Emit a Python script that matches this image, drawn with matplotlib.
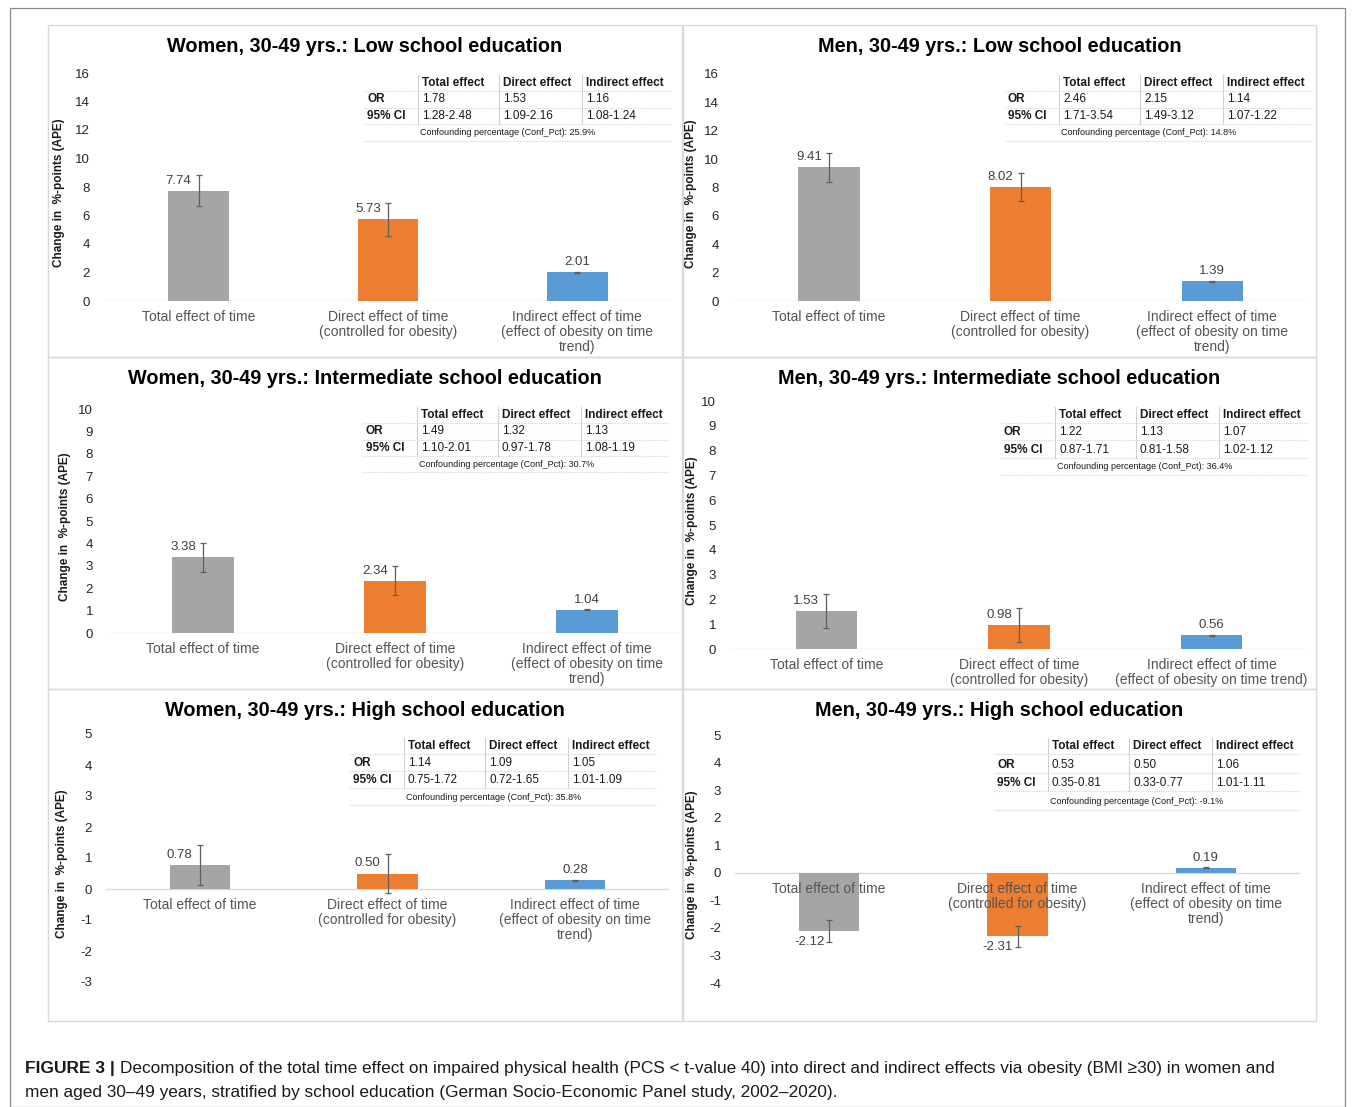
import matplotlib
matplotlib.use("Agg")
import matplotlib.pyplot as plt
from matplotlib.patches import Rectangle
from matplotlib.lines import Line2D

plt.rcParams['font.family'] = ['Liberation Sans', 'DejaVu Sans']
plt.rcParams['axes.unicode_minus'] = False

# ---------------- data ----------------
titles = [
    "Women, 30-49 yrs.: Low school education",
    "Men, 30-49 yrs.: Low school education",
    "Women, 30-49 yrs.: Intermediate school education",
    "Men, 30-49 yrs.: Intermediate school education",
    "Women, 30-49 yrs.: High school education",
    "Men, 30-49 yrs.: High school education",
]
values = [
    [7.74, 5.73, 2.01],
    [9.41, 8.02, 1.39],
    [3.38, 2.34, 1.04],
    [1.53, 0.98, 0.56],
    [0.78, 0.50, 0.28],
    [-2.12, -2.31, 0.19],
]
errors = [
    [1.10, 1.15, 0.02],
    [1.00, 0.97, 0.02],
    [0.66, 0.66, 0.02],
    [0.67, 0.68, 0.02],
    [0.64, 0.63, 0.02],
    [0.39, 0.39, 0.02],
]
value_labels = [
    ["7.74", "5.73", "2.01"],
    ["9.41", "8.02", "1.39"],
    ["3.38", "2.34", "1.04"],
    ["1.53", "0.98", "0.56"],
    ["0.78", "0.50", "0.28"],
    ["-2.12", "-2.31", "0.19"],
]
or_vals = [
    ["1.78", "1.53", "1.16"],
    ["2.46", "2.15", "1.14"],
    ["1.49", "1.32", "1.13"],
    ["1.22", "1.13", "1.07"],
    ["1.14", "1.09", "1.05"],
    ["0.53", "0.50", "1.06"],
]
ci_vals = [
    ["1.28-2.48", "1.09-2.16", "1.08-1.24"],
    ["1.71-3.54", "1.49-3.12", "1.07-1.22"],
    ["1.10-2.01", "0.97-1.78", "1.08-1.19"],
    ["0.87-1.71", "0.81-1.58", "1.02-1.12"],
    ["0.75-1.72", "0.72-1.65", "1.01-1.09"],
    ["0.35-0.81", "0.33-0.77", "1.01-1.11"],
]
conf_pct = ["25.9%", "14.8%", "30.7%", "36.4%", "35.8%", "-9.1%"]
table_header = ["Total effect", "Direct effect", "Indirect effect"]
row_labels = ["OR", "95% CI"]
y_ranges = [(0, 16, 2), (0, 16, 2), (0, 10, 1), (0, 10, 1), (-3, 5, 1), (-4, 5, 1)]
cats_default = ["Total effect of time",
                "Direct effect of time\n(controlled for obesity)",
                "Indirect effect of time\n(effect of obesity on time\ntrend)"]
cats_wide = ["Total effect of time",
             "Direct effect of time\n(controlled for obesity)",
             "Indirect effect of time\n(effect of obesity on time trend)"]
categories = [cats_default, cats_default, cats_default, cats_wide, cats_default, cats_default]
ylabel = "Change in  %-points (APE)"
caption_bold = "FIGURE 3 | "
caption_l1 = ("Decomposition of the total time effect on impaired physical health (PCS < t-value 40) "
              "into direct and indirect effects via obesity (BMI \u226530) in women and")
caption_l2 = ("men aged 30\u201349 years, stratified by school education "
              "(German Socio-Economic Panel study, 2002\u20132020).")

# ---------------- layout (pixels) ----------------
W, H = 1355, 1107
colors = ["#A5A5A5", "#ED7D31", "#5B9BD5"]
# panel boxes: (left, top, right, bottom)
panels = [(48, 25, 682, 357), (683, 25, 1316, 357),
          (48, 357, 682, 689), (683, 357, 1316, 689),
          (48, 689, 682, 1021), (683, 689, 1316, 1021)]
# axes: (left, right, top, bottom)
axes_px = [(104, 672, 73, 301), (733, 1308, 74, 301),
           (107, 683, 409, 633), (730, 1308, 401, 649),
           (106, 669, 734, 982), (735, 1300, 735, 983)]
ylabel_x = [59, 691, 65, 692, 62, 692]
# table anchors: (x of row label, y of header, row step)
tables = [(366, 83, 16.5), (1007, 83, 16.5), (365, 415, 16.5), (1003, 415, 17.3),
          (352, 746, 17.0), (996, 746, 18.5)]
col_off = [56, 137, 220]
sep_off = [52, 133, 216]
tab_w = 307

fig = plt.figure(figsize=(W / 100, H / 100), dpi=100)


def fx(x):
    return x / W


def fy(y):
    return 1 - y / H


# outer frame
fig.patches.append(Rectangle((fx(10), fy(1107)), fx(1335), (1107 - 8) / H,
                             transform=fig.transFigure, fill=False,
                             edgecolor="#8c8c8c", lw=0.9))

for i in range(6):
    pl, pt, pr, pb = panels[i]
    fig.patches.append(Rectangle((fx(pl), fy(pb)), (pr - pl) / W, (pb - pt) / H,
                                 transform=fig.transFigure, fill=False,
                                 edgecolor="#d9d9d9", lw=1.0))
    l, r, t, b = axes_px[i]
    ax = fig.add_axes([fx(l), fy(b), (r - l) / W, (b - t) / H])
    ymin, ymax, step = y_ranges[i]
    x = [0, 1, 2]
    ax.bar(x, values[i], width=0.32, color=colors, zorder=2)
    ax.errorbar(x, values[i], yerr=errors[i], fmt="none", ecolor="#5f5f5f",
                elinewidth=0.9, capsize=2.5, capthick=0.9, zorder=3)
    ax.axhline(0, color="#d9d9d9", lw=1.0, zorder=1)
    ax.set_xlim(-0.5, 2.5)
    ax.set_ylim(ymin, ymax)
    ax.set_yticks(range(ymin, ymax + 1, step))
    ax.tick_params(axis="y", length=0, pad=10, labelsize=9.5, labelcolor="#262626")
    ax.set_xticks([])
    for s in ax.spines.values():
        s.set_visible(False)
    ax.patch.set_alpha(0)
    # value labels
    for j in range(3):
        v = values[i][j]
        dx = -20 if j < 2 else 0
        if v >= 0:
            ax.annotate(value_labels[i][j], (j, v), xytext=(dx, 4), textcoords="offset pixels",
                        ha="center", va="bottom", fontsize=9.5, color="#404040")
        else:
            ax.annotate(value_labels[i][j], (j, v), xytext=(dx, -5), textcoords="offset pixels",
                        ha="center", va="top", fontsize=9.5, color="#404040")
        ax.annotate(categories[i][j], (j, 0), xytext=(0, -9), textcoords="offset pixels",
                    ha="center", va="top", fontsize=10, color="#555555", linespacing=1.08,
                    zorder=5)
    # y label
    fig.text(fx(ylabel_x[i]), fy((t + b) / 2 + 6), ylabel, rotation=90, ha="center",
             va="center", fontsize=8.5, fontweight="bold", color="#1a1a1a")
    # title
    fig.text(fx((pl + pr) / 2), fy(pt + 21), titles[i], ha="center", va="center",
             fontsize=14.3, fontweight="bold", color="#000000")
    # table
    tx, ty, dy = tables[i]
    for k in range(3):
        fig.text(fx(tx + col_off[k]), fy(ty), table_header[k], ha="left", va="center",
                 fontsize=8.5, fontweight="bold", color="#1a1a1a")
        fig.text(fx(tx + col_off[k]), fy(ty + dy), or_vals[i][k], ha="left", va="center",
                 fontsize=8.5, color="#1a1a1a")
        fig.text(fx(tx + col_off[k]), fy(ty + 2 * dy), ci_vals[i][k], ha="left", va="center",
                 fontsize=8.5, color="#1a1a1a")
        fig.lines.append(Line2D([fx(tx + sep_off[k])] * 2, [fy(ty - 8), fy(ty + 2 * dy + 8)],
                                transform=fig.transFigure, color="#d0d0d0", lw=0.8))
    fig.text(fx(tx + 1), fy(ty + dy), row_labels[0], ha="left", va="center",
             fontsize=8.5, fontweight="bold", color="#1a1a1a")
    fig.text(fx(tx + 1), fy(ty + 2 * dy), row_labels[1], ha="left", va="center",
             fontsize=8.5, fontweight="bold", color="#1a1a1a")
    fig.text(fx(tx + sep_off[0] + 2), fy(ty + 3 * dy), "Confounding percentage (Conf_Pct): " + conf_pct[i],
             ha="left", va="center", fontsize=6.5, color="#1a1a1a")
    for k in range(4):
        yy = ty + 8 + k * dy
        fig.lines.append(Line2D([fx(tx - 2), fx(tx - 2 + tab_w)], [fy(yy), fy(yy)],
                                transform=fig.transFigure, color="#d6d6d6", lw=0.8,
                                linestyle=(0, (1, 1))))

# caption
cap_font = ['Liberation Sans', 'DejaVu Sans']
tb = fig.text(fx(25), fy(1068), caption_bold, ha="left", va="center", fontsize=12.5,
              fontweight="bold", family=cap_font, color="#1a1a1a")
fig.add_artist(plt.Annotation(caption_l1, xy=(1, 0.5), xycoords=tb, ha="left", va="center",
                              fontsize=12.4, family=cap_font, color="#1a1a1a"))
fig.text(fx(25), fy(1092), caption_l2, ha="left", va="center", fontsize=12.4,
         family=cap_font, color="#1a1a1a")

fig.savefig("out.png", dpi=100)
